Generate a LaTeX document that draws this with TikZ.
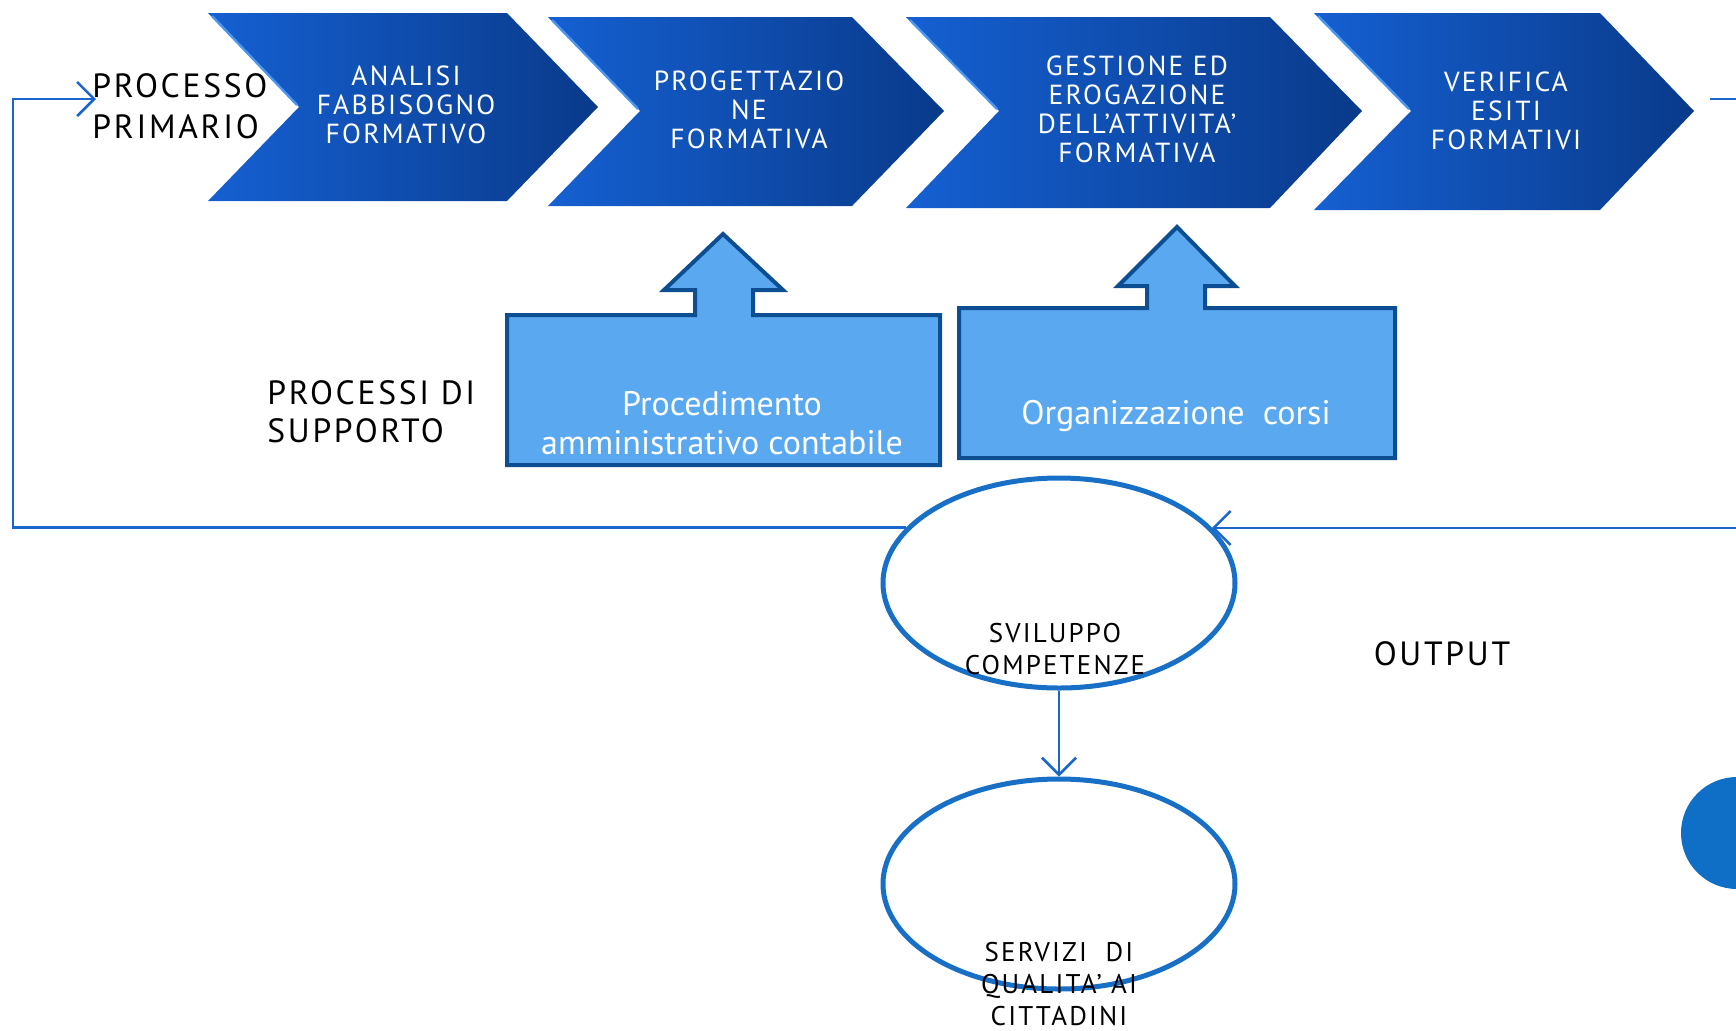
\documentclass[tikz,border=0pt]{standalone}
\usepackage{fontspec}
\setmainfont[LetterSpace=8]{PT Sans}
\newfontfamily\supfont{PT Sans}
\usetikzlibrary{arrows.meta,shapes.geometric}
\definecolor{chevL}{HTML}{1560D2}
\definecolor{chevR}{HTML}{093A8A}
\definecolor{chevHL}{HTML}{4A97F2}
\definecolor{supfill}{HTML}{5AA8EF}
\definecolor{supline}{HTML}{0D4E92}
\definecolor{fbline}{HTML}{1A66CC}
\definecolor{ovline}{HTML}{1870C6}
\definecolor{dotblue}{HTML}{0F6EC6}
\begin{document}
\begin{tikzpicture}[x=0.5pt,y={(0pt,-0.5pt)},
  chev/.style={left color=chevL, right color=chevR, draw=none},
  chevhl/.style={draw=chevHL, line width=1.2pt},
  chevtext/.style={text=white, align=center, inner sep=0pt, font=\fontsize{13.8}{14.5}\selectfont},
  lbl/.style={text=black, align=left, inner sep=0pt, font=\fontsize{16.8}{19}\selectfont},
  sup/.style={fill=supfill, draw=supline, line width=2pt, line join=miter},
  suptext/.style={text=white, align=center, inner sep=0pt, font=\supfont\fontsize{17}{19.5}\selectfont},
  fb/.style={draw=fbline, line width=1.3pt},
  tip/.style={-{Straight Barb[length=8.5pt,width=17pt]}},
  oval/.style={ellipse, draw=ovline, line width=2.5pt, fill=white, minimum width=176pt, minimum height=105pt, inner sep=0pt},
  ovtext/.style={text=black, align=center, inner sep=0pt, font=\fontsize{13.5}{16}\selectfont}]
\useasboundingbox (0,0) rectangle (1736,1030);

% chevrons
\path[chev] (208,13) -- (507,13) -- (598,107) -- (507,201) -- (208,201) -- (299,107) -- cycle;
\draw[chevhl] (212,16) -- (297,105);
\path[chev] (548,17) -- (852,17) -- (944,111) -- (852,206) -- (548,206) -- (640,111) -- cycle;
\draw[chevhl] (552,20) -- (638,109);
\path[chev] (906,17) -- (1270,17) -- (1362,111) -- (1270,208) -- (906,208) -- (999,111) -- cycle;
\draw[chevhl] (910,20) -- (997,109);
\path[chev] (1314,13) -- (1600,13) -- (1694,111) -- (1600,210) -- (1314,210) -- (1411,111) -- cycle;
\draw[chevhl] (1318,16) -- (1409,109);

\node[chevtext] (t1) at (406,105) {ANALISI\\FABBISOGNO\\FORMATIVO};
\node[chevtext] (t2) at (749,110) {PROGETTAZIO\\NE\\FORMATIVA};
\node[chevtext] (t3) at (1137,109) {GESTIONE ED\\EROGAZIONE\\DELL’ATTIVITA’\\FORMATIVA};
\node[chevtext] (t4) at (1506,111) {VERIFICA\\ESITI\\FORMATIVI};

% labels
\node[lbl, anchor=west, font=\fontsize{16.8}{20.5}\selectfont] (pp) at (92,106) {PROCESSO\\PRIMARIO};
\node[lbl, anchor=west] (ps) at (267,412) {PROCESSI DI\\SUPPORTO};
\node[lbl] (out) at (1442,654) {OUTPUT};

% support shapes
\path[sup] (507,465) -- (507,315) -- (695,315) -- (695,290) -- (664,290) -- (723,234) -- (783,290) -- (753,290) -- (753,315) -- (940,315) -- (940,465) -- cycle;
\path[sup] (959,458) -- (959,308) -- (1147,308) -- (1147,286) -- (1118,286) -- (1177,227) -- (1235,286) -- (1205,286) -- (1205,308) -- (1395,308) -- (1395,458) -- cycle;
\node[suptext] (s1) at (722,423) {Procedimento\\amministrativo contabile};
\node[suptext] (s2) at (1176,416) {Organizzazione\ \ corsi};

% feedback loop
\coordinate (lc) at (13,99);
\coordinate (pin) at (96,99);
\coordinate (rout) at (1710,99);
\coordinate (rend) at (1736,99);
\coordinate (rin) at (1736,528);
\node[oval, draw=none, fill=none] (g1) at (1059,583) {};
\draw[fb, tip] (g1.160) -- (g1.160 -| lc) -- (lc) -- (pin);
\draw[fb] (rout) -- (rend);
\draw[fb, tip] (rin) -- (rin -| g1.20);

% ellipses
\node[oval] (e1) at (1059,583) {};
\node[oval] (e2) at (1059,884) {};
\draw[fb, tip] (e1.south) -- (e2.north);
\node[ovtext] (o1) at (1055,649) {SVILUPPO\\COMPETENZE};
\node[ovtext] (o2) at (1059,984) {SERVIZI\ \ DI\\QUALITA’ AI\\CITTADINI};

% partial dot at right edge
\begin{scope}
\clip (0,0) rectangle (1736,1030);
\fill[dotblue] (1737,833) circle (56);
\end{scope}
\end{tikzpicture}
\end{document}
